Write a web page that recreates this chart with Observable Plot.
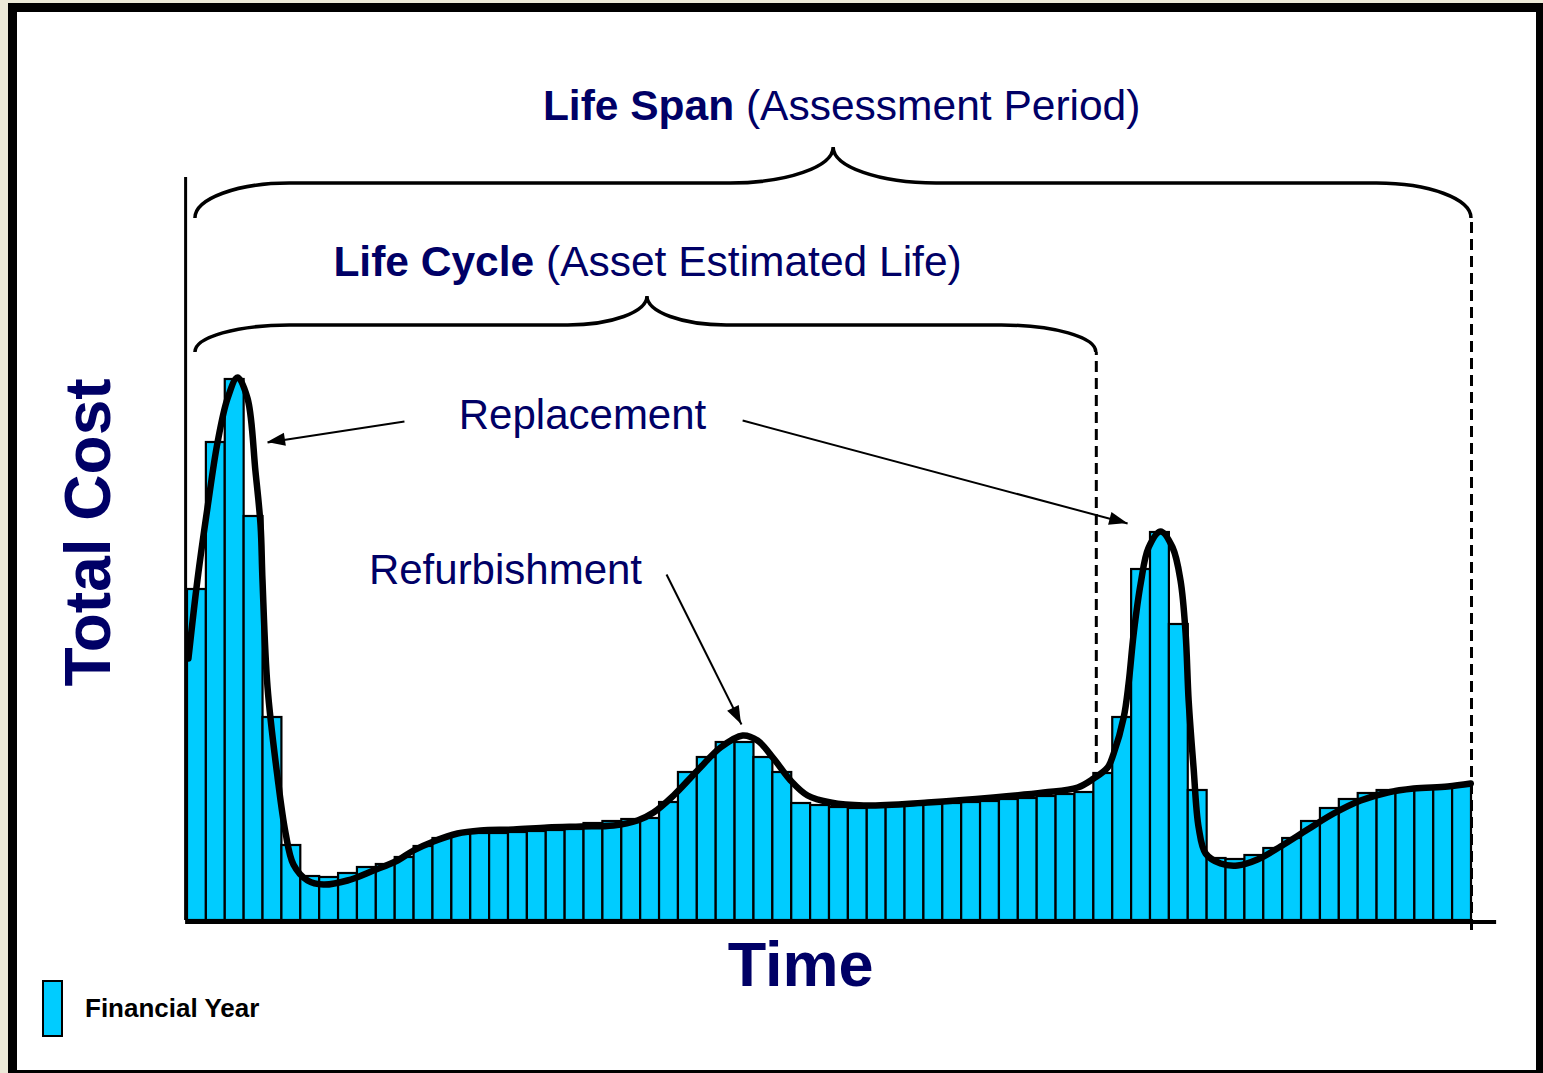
<!DOCTYPE html>
<html><head><meta charset="utf-8">
<script src="https://cdn.jsdelivr.net/npm/d3@7"></script>
<script src="https://cdn.jsdelivr.net/npm/@observablehq/plot@0.6"></script>
<style>
html,body{margin:0;padding:0;width:1543px;height:1073px;overflow:hidden;background:#ECE9D8;font-family:"Liberation Sans",Arial,sans-serif;}
#frame{position:absolute;left:8px;top:3px;width:1537px;height:1076px;box-sizing:border-box;border:9px solid #000;background:#fff;}
#chart{position:absolute;left:0;top:0;}
#legend{position:absolute;left:42px;top:980px;display:flex;align-items:center;}
#legend .sw{width:17px;height:53px;border:2px solid #000;background:#00CCFF;}
#legend span{margin-left:22px;font-weight:bold;font-size:26px;color:#000;}
</style>
</head>
<body>
<div id="frame"></div>
<div id="chart"></div>
<div id="legend"><div class="sw"></div><span>Financial Year</span></div>
<script>
// ---- data (arbitrary cost units, one bar per financial year) ----
const costs = [331,478,541,404,203,75,44,43,47,53,
               56,63,74,82,86,87,87,88,89,90,
               91,97,99,101,102,
               118,148,163,178,178,163,148,
               117,115,113,112,
               113,114,115,116,117,118,119,121,122,124,126,128,
               147,203,351,388,296,
               130,62,61,65,72,82,99,
               112,121,127,130,131,132,133,134];
// smoothed total-cost trend line
const trendT = [0.05,0.53,1.06,1.59,2.12,2.65,3.18,3.60,3.87,3.97,4.24,4.77,5.19,5.61,6.36,7.20,8.47,9.85,11.12,11.97,13.03,14.30,15.52,17.27,19.07,20.82,22.56,23.83,24.68,25.74,27.01,28.23,29.40,30.19,31.04,31.94,32.84,34.06,35.81,39.19,42.69,45.34,47.14,47.99,48.73,49.05,49.58,49.84,50.11,50.48,50.90,51.54,52.17,52.59,52.86,53.02,53.28,53.55,53.92,54.71,55.61,56.67,57.89,59.32,60.70,62.13,63.56,64.94,66.74,67.96];
const trendC = [262,341,413,478,522,543,522,449,395,341,233,143,88,56,40,36,40,50,60,70,79,87,90,91,93,94,95,100,108,125,150,173,185,180,162,140,125,118,115,118,123,128,133,142,153,167,203,237,287,337,373,389,373,340,287,220,153,93,67,57,55,61,74,91,107,120,128,132,134,137];

// annotation: periods (braces)
const periodBold  = ["Life Span", "Life Cycle"];
const periodNote  = [" (Assessment Period)", " (Asset Estimated Life)"];
const periodStart = [0.42, 0.42];
const periodEnd   = [68, 48.13];
const periodMid   = [34.22, 24.36];
const periodLevel = [737, 595];
const periodTip   = [773, 624];
const periodFoot  = [702, 568];
const periodCurl  = [5.0, 5.0];
const periodHalf  = [5.45, 4.2];
const periodLabelX = [34.67, 24.39];
const periodLabelY = [800, 644];

// annotation: callout labels and arrows
const calloutText = ["Replacement", "Refurbishment"];
const calloutX = [20.92, 16.84];
const calloutY = [492, 337];
const arrowX1 = [11.49, 29.40, 25.37];
const arrowY1 = [499, 500, 346];
const arrowX2 = [4.24, 49.79, 29.34];
const arrowY2 = [478, 397, 196];

// dashed period boundaries
const boundX  = [48.13, 68];
const boundY1 = [157, -10];
const boundY2 = [568, 702];

const navy = "#000066";
const bars = costs.map((c, i) => ({year: i, cost: c}));
const trend = trendT.map((t, i) => ({t, c: trendC[i]}));
const periods = periodBold.map((b, i) => ({bold: b, note: periodNote[i], start: periodStart[i], end: periodEnd[i], mid: periodMid[i], level: periodLevel[i], tip: periodTip[i], foot: periodFoot[i], curl: periodCurl[i], half: periodHalf[i], lx: periodLabelX[i], ly: periodLabelY[i]}));
const callouts = calloutText.map((t, i) => ({text: t, x: calloutX[i], y: calloutY[i]}));
const arrows = arrowX1.map((x1, i) => ({x1, y1: arrowY1[i], x2: arrowX2[i], y2: arrowY2[i]}));
const bounds = boundX.map((x, i) => ({x, y1: boundY1[i], y2: boundY2[i]}));

function getScales(scales) {
  const x = scales && typeof scales.x === "function" ? scales.x : d3.scaleLinear([0, 68], [187, 1471]);
  const y = scales && typeof scales.y === "function" ? scales.y : d3.scaleLinear([0, 742], [920, 178]);
  return {x, y};
}

const braceMark = (index, scales) => {
  const {x, y} = getScales(scales);
  const g = d3.create("svg:g").attr("fill", "none").attr("stroke", "#000").attr("stroke-width", 3.5);
  const k = 0.5523;
  for (const s of periods) {
    const X1 = x(s.start), X2 = x(s.end), XM = x(s.mid), YL = y(s.level), YC = y(s.tip), YE = y(s.foot);
    const cw = x(s.start + s.curl) - X1, hw = x(s.mid + s.half) - XM;
    const p = d3.path();
    p.moveTo(X1, YE);
    p.bezierCurveTo(X1, YE - (YE - YL) * k, X1 + cw - cw * k, YL, X1 + cw, YL);
    p.lineTo(XM - hw, YL);
    p.bezierCurveTo(XM - hw + hw * k, YL, XM, YC + (YL - YC) * k, XM, YC);
    p.bezierCurveTo(XM, YC + (YL - YC) * k, XM + hw - hw * k, YL, XM + hw, YL);
    p.lineTo(X2 - cw, YL);
    p.bezierCurveTo(X2 - cw + cw * k, YL, X2, YE - (YE - YL) * k, X2, YE);
    g.append("path").attr("d", p.toString());
  }
  return g.node();
};

const periodLabelMark = (index, scales) => {
  const {x, y} = getScales(scales);
  const g = d3.create("svg:g").attr("fill", navy).attr("font-size", 42.5).attr("text-anchor", "middle").style("white-space", "pre");
  for (const s of periods) {
    const t = g.append("text").attr("x", x(s.lx)).attr("y", y(s.ly));
    t.append("tspan").attr("font-weight", "bold").text(s.bold);
    t.append("tspan").text(s.note);
  }
  return g.node();
};

const arrowHeadMark = (index, scales) => {
  const {x, y} = getScales(scales);
  const g = d3.create("svg:g").attr("fill", "#000");
  for (const a of arrows) {
    const tx = x(a.x2), ty = y(a.y2), fx = x(a.x1), fy = y(a.y1);
    const dx = tx - fx, dy = ty - fy, len = Math.hypot(dx, dy);
    const ux = dx / len, uy = dy / len, L = 18, W = 6.5;
    const bx = tx - ux * L, by = ty - uy * L;
    g.append("path").attr("d", `M${tx},${ty}L${bx - uy * W},${by + ux * W}L${bx + uy * W},${by - ux * W}Z`);
  }
  return g.node();
};

const chart = Plot.plot({
  width: 1543,
  height: 1073,
  marginLeft: 187,
  marginRight: 72,
  marginTop: 178,
  marginBottom: 153,
  style: {background: "transparent", fontFamily: "'Liberation Sans', Arial, sans-serif", overflow: "visible"},
  x: {domain: [0, 68], axis: null},
  y: {domain: [0, 742], axis: null},
  marks: [
    Plot.rectY(bars, {x1: "year", x2: d => d.year + 1, y: "cost", fill: "#00CCFF", stroke: "#000", strokeWidth: 2.2}),
    Plot.ruleX(bounds, {x: "x", y1: "y1", y2: "y2", stroke: "#000", strokeWidth: 3, strokeDasharray: "11,6"}),
    Plot.line(trend, {x: "t", y: "c", curve: "catmull-rom", stroke: "#000", strokeWidth: 6.5}),
    Plot.ruleX([-0.1], {y1: 0, y2: 743, stroke: "#000", strokeWidth: 3}),
    Plot.ruleY([-1.5], {x1: -0.1, x2: 69.33, stroke: "#000", strokeWidth: 4}),
    braceMark,
    periodLabelMark,
    Plot.link(arrows, {x1: "x1", y1: "y1", x2: "x2", y2: "y2", stroke: "#000", strokeWidth: 2}),
    arrowHeadMark,
    Plot.text(callouts, {x: "x", y: "y", text: "text", fill: navy, fontSize: 42, lineAnchor: "bottom", textAnchor: "middle"}),
    Plot.text(["Time"], {x: 32.47, y: -65, text: d => d, fill: navy, fontSize: 63, fontWeight: "bold", lineAnchor: "bottom", textAnchor: "middle"}),
    Plot.text(["Total Cost"], {x: -4.08, y: 388, text: d => d, fill: navy, fontSize: 64, fontWeight: "bold", rotate: -90, lineAnchor: "bottom", textAnchor: "middle"})
  ]
});
document.getElementById("chart").appendChild(chart);
</script>
</body></html>
